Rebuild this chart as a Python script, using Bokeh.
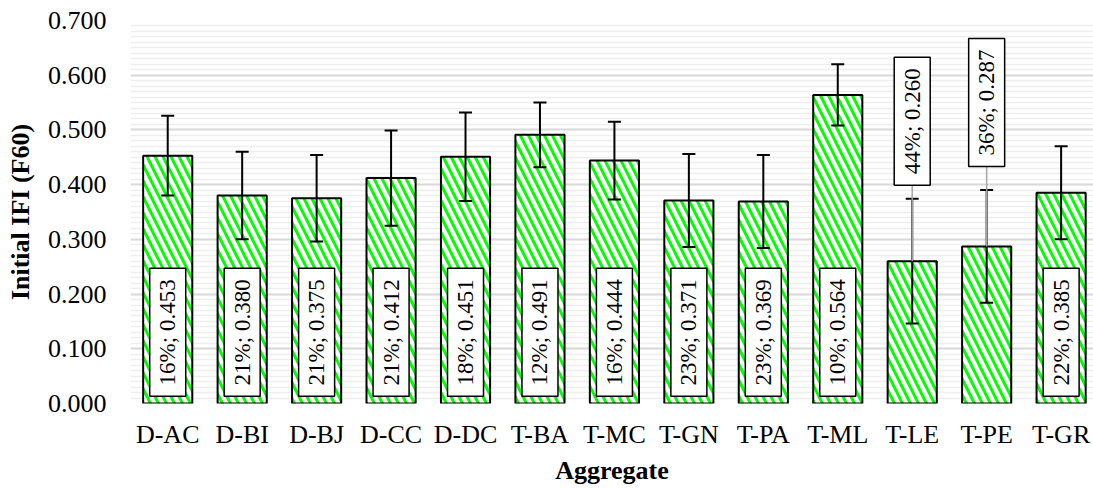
import math
from bokeh.plotting import figure
from bokeh.models import ColumnDataSource, FixedTicker, NumeralTickFormatter, Range1d
from bokeh.core.properties import value
from bokeh.embed import file_html
from bokeh.resources import INLINE

# ---- data ----
categories = ["D-AC", "D-BI", "D-BJ", "D-CC", "D-DC", "T-BA", "T-MC",
              "T-GN", "T-PA", "T-ML", "T-LE", "T-PE", "T-GR"]
mean_ifi = [0.453, 0.380, 0.375, 0.412, 0.451, 0.491, 0.444,
            0.371, 0.369, 0.564, 0.260, 0.287, 0.385]
cv_pct = [16, 21, 21, 21, 18, 12, 16, 23, 23, 10, 44, 36, 22]
std_ifi = [0.073, 0.080, 0.079, 0.087, 0.081, 0.059, 0.071,
           0.085, 0.085, 0.056, 0.114, 0.103, 0.085]
y_ticks = [0.0, 0.1, 0.2, 0.3, 0.4, 0.5, 0.6, 0.7]

# ---- layout constants ----
FONT = "Liberation Serif"
LABEL_Y_DEFAULT = 0.130
LABEL_Y_MOVED = {"T-LE": 0.516, "T-PE": 0.550}

xs = list(range(len(categories)))
upper = [m + s for m, s in zip(mean_ifi, std_ifi)]
lower = [m - s for m, s in zip(mean_ifi, std_ifi)]
label_text = [f"{c}%; {m:.3f}" for c, m in zip(cv_pct, mean_ifi)]
label_y = [LABEL_Y_MOVED.get(c, LABEL_Y_DEFAULT) for c in categories]

src = ColumnDataSource(dict(x=xs, top=mean_ifi, upper=upper, lower=lower,
                            txt=label_text, ly=label_y))

p = figure(width=1093, height=488, output_backend="svg", toolbar_location=None,
           x_range=Range1d(-0.5, 12.435), y_range=Range1d(0, 0.7),
           min_border_left=130, min_border_right=0, min_border_top=20,
           min_border_bottom=85)
p.outline_line_color = None
p.background_fill_color = "white"
p.border_fill_color = "white"

# bars
p.vbar(x="x", top="top", bottom=0, width=0.66, source=src,
       fill_color="white", line_color="black", line_width=2,
       hatch_pattern="\\", hatch_color="#00ff00", hatch_scale=16, hatch_weight=3)

# error bars
p.segment(x0="x", y0="lower", x1="x", y1="upper", source=src,
          line_color="black", line_width=2)
p.dash(x="x", y="upper", size=13, line_width=2, line_color="black", source=src)
p.dash(x="x", y="lower", size=13, line_width=2, line_color="black", source=src)

# leader lines for moved labels
lx, ly0, ly1 = [], [], []
for i, c in enumerate(categories):
    if c in LABEL_Y_MOVED:
        lx.append(i)
        ly0.append(mean_ifi[i])
        ly1.append(LABEL_Y_MOVED[c])
p.segment(x0=lx, y0=ly0, x1=lx, y1=ly1, line_color="#a6a6a6", line_width=1.5)

# data label boxes
p.rect(x="x", y="ly", width=36, height=128, width_units="screen",
       height_units="screen", fill_color="white", line_color="black",
       line_width=1.5, source=src)
p.text(x="x", y="ly", text="txt", angle=math.pi / 2, text_align="center",
       text_baseline="middle", text_font=value(FONT), text_font_size="23px",
       text_color="black", source=src)

# axes
p.yaxis.ticker = FixedTicker(ticks=y_ticks,
                             minor_ticks=[i / 100 for i in range(71)])
p.yaxis.formatter = NumeralTickFormatter(format="0.000")
p.yaxis.axis_line_color = None
p.yaxis.major_tick_line_color = None
p.yaxis.minor_tick_line_color = None
p.yaxis.major_label_standoff = 18
p.yaxis.major_label_text_font = FONT
p.yaxis.major_label_text_font_size = "26px"
p.yaxis.major_label_text_color = "black"
p.yaxis.axis_label = "Initial IFI (F60)"
p.yaxis.axis_label_text_font = FONT
p.yaxis.axis_label_text_font_size = "26px"
p.yaxis.axis_label_text_font_style = "bold"
p.yaxis.axis_label_text_color = "black"
p.yaxis.axis_label_standoff = 10

p.xaxis.ticker = FixedTicker(ticks=xs)
p.xaxis.major_label_overrides = {i: c for i, c in enumerate(categories)}
p.xaxis.axis_line_color = None
p.xaxis.major_tick_line_color = None
p.xaxis.minor_tick_line_color = None
p.xaxis.major_label_standoff = 10
p.xaxis.major_label_text_font = FONT
p.xaxis.major_label_text_font_size = "26px"
p.xaxis.major_label_text_color = "black"
p.xaxis.axis_label = "Aggregate"
p.xaxis.axis_label_text_font = FONT
p.xaxis.axis_label_text_font_size = "26px"
p.xaxis.axis_label_text_font_style = "bold"
p.xaxis.axis_label_text_color = "black"
p.xaxis.axis_label_standoff = 4

p.xgrid.grid_line_color = None
p.ygrid.grid_line_color = "#d9d9d9"
p.ygrid.grid_line_width = 2
p.ygrid.minor_grid_line_color = "#eeeeee"
p.ygrid.minor_grid_line_width = 1.5

open("out.html", "w").write(file_html(p, INLINE))
